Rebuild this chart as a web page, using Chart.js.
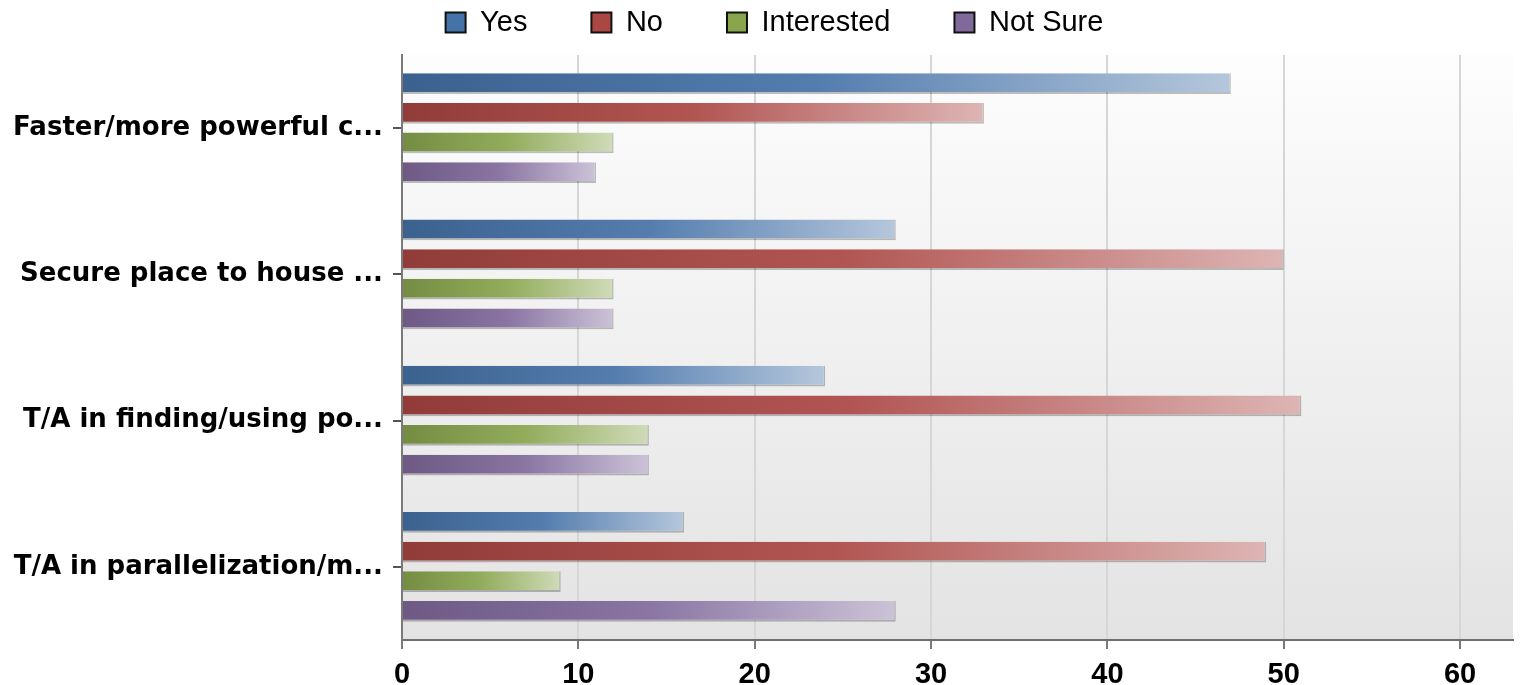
<!DOCTYPE html>
<html>
<head>
<meta charset="utf-8">
<script src="https://cdn.jsdelivr.net/npm/chart.js@4/dist/chart.umd.min.js"></script>
<style>
html,body{margin:0;padding:0;background:#fff;overflow:hidden}
#wrap{width:1521px;height:685px;position:relative}
canvas{display:block}
</style>
</head>
<body>
<div id="wrap"><canvas id="c" width="1521" height="685"></canvas></div>
<script>
// ---- data ----
const categories = [
  'Faster/more powerful c...',
  'Secure place to house ...',
  'T/A in finding/using po...',
  'T/A in parallelization/m...'
];
const seriesNames = ['Yes', 'No', 'Interested', 'Not Sure'];
const yesValues = [47, 28, 24, 16];
const noValues = [33, 50, 51, 49];
const interestedValues = [12, 12, 14, 9];
const notSureValues = [11, 12, 14, 28];
const xTickValues = [0, 10, 20, 30, 40, 50, 60];
const xMax = 63;

// ---- style ----
const seriesColors = ['#4572A7', '#AA4643', '#89A54E', '#80699B'];
const FONT = 'Liberation Sans, Arial, sans-serif';
const LABEL_FONT = 'DejaVu Sans, Verdana, sans-serif';

function hexToRgb(h){ h=h.replace('#',''); return [parseInt(h.slice(0,2),16),parseInt(h.slice(2,4),16),parseInt(h.slice(4,6),16)]; }
function mix(hex, other, t){
  const a=hexToRgb(hex), b=hexToRgb(other);
  const c=a.map((v,i)=>Math.round(v*(1-t)+b[i]*t));
  return 'rgb('+c.join(',')+')';
}

function barFill(ctx){
  const base = seriesColors[ctx.datasetIndex];
  const chart = ctx.chart;
  if (ctx.type !== 'data' || !chart.chartArea || !chart.scales.x) return base;
  const xs = chart.scales.x;
  const x0 = xs.getPixelForValue(0);
  const x1 = xs.getPixelForValue(ctx.raw);
  if (!isFinite(x0) || !isFinite(x1) || Math.abs(x1 - x0) < 1) return base;
  const g = chart.ctx.createLinearGradient(x0, 0, x1, 0);
  g.addColorStop(0, mix(base, '#000000', 0.15));
  g.addColorStop(0.5, mix(base, '#ffffff', 0.08));
  g.addColorStop(1, mix(base, '#ffffff', 0.6));
  return g;
}

const plotBg = {
  id: 'plotBg',
  afterLayout(chart){
    // let the category labels use the whole left margin (no clipping at the padding)
    if (chart.scales.y) chart.scales.y.left = 0;
  },
  beforeDraw(chart){
    const {ctx, chartArea: a} = chart;
    if (!a) return;
    const g = ctx.createLinearGradient(0, a.top, 0, a.bottom);
    g.addColorStop(0, '#fdfdfd');
    g.addColorStop(1, '#e3e3e3');
    ctx.save();
    ctx.fillStyle = g;
    ctx.fillRect(a.left, a.top, a.right - a.left, a.bottom - a.top);
    ctx.restore();
  }
};

const seriesValues = [yesValues, noValues, interestedValues, notSureValues];

new Chart(document.getElementById('c'), {
  type: 'bar',
  data: {
    labels: categories,
    datasets: seriesNames.map((name, i) => ({
      label: name,
      data: seriesValues[i],
      backgroundColor: barFill,
      borderColor: 'rgba(0,0,0,0.25)',
      borderWidth: {top: 0, right: 1.5, bottom: 2, left: 0},
      borderSkipped: 'start',
      barPercentage: 0.7,
      categoryPercentage: 0.81
    }))
  },
  options: {
    indexAxis: 'y',
    responsive: false,
    devicePixelRatio: 1,
    animation: false,
    layout: {padding: {top: -56, right: 8, left: 36, bottom: 0}},
    plugins: {
      legend: {
        position: 'top',
        align: 'center',
        labels: {
          font: {family: FONT, size: 29},
          color: '#000',
          padding: 64,
          boxWidth: 20,
          boxHeight: 20,
          generateLabels: (chart) => chart.data.datasets.map((ds, i) => ({
            text: ds.label,
            fillStyle: seriesColors[i],
            strokeStyle: '#111',
            lineWidth: 2,
            hidden: false,
            datasetIndex: i,
            fontColor: '#000'
          }))
        }
      },
      tooltip: {enabled: false}
    },
    scales: {
      x: {
        type: 'linear',
        min: 0,
        max: xMax,
        afterBuildTicks: (s) => { s.ticks = xTickValues.map(v => ({value: v})); },
        afterFit: (s) => { s.height = 45; },
        grid: {color: '#d6d6d6', lineWidth: 2, drawOnChartArea: true, drawTicks: true, tickLength: 9, tickColor: '#7a7a7a', tickWidth: 2},
        border: {display: true, color: '#6e6e6e', width: 2},
        ticks: {font: {family: FONT, size: 29, weight: 'bold'}, color: '#000', padding: 9}
      },
      xTop: {
        type: 'linear',
        position: 'top',
        display: true,
        afterFit: (s) => { s.height = 8; },
        grid: {display: false, drawOnChartArea: false, drawTicks: false},
        border: {display: false},
        ticks: {display: false}
      },
      y: {
        type: 'category',
        afterFit: (s) => { s.width = 366; },
        grid: {drawOnChartArea: false, drawTicks: true, tickLength: 9, color: '#555', lineWidth: 2, offset: false},
        border: {display: true, color: '#7a7a7a', width: 2},
        ticks: {font: {family: LABEL_FONT, size: 26, weight: 'bold'}, color: '#000', padding: 10}
      }
    }
  },
  plugins: [plotBg]
});
</script>
</body>
</html>
